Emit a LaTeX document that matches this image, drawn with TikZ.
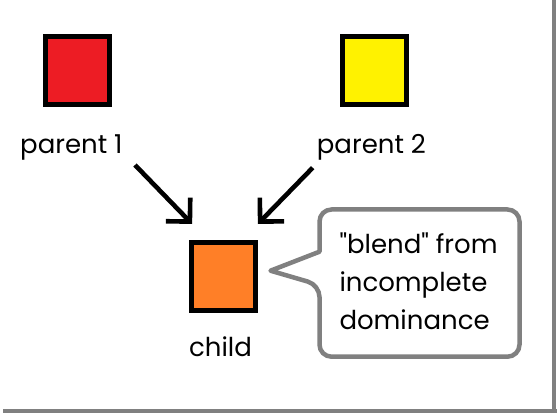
\documentclass[tikz,border=0pt]{standalone}
\usepackage{fontspec}
\setmainfont{Poppins}[Ligatures=TeXOff]
\usetikzlibrary{arrows.meta}
\definecolor{pred}{HTML}{ED1C24}
\definecolor{pyellow}{HTML}{FFF200}
\definecolor{porange}{HTML}{FF7F27}
\definecolor{pgray}{HTML}{808080}
\begin{document}
\begin{tikzpicture}[x=1pt,y=-1pt,
  sq/.style={draw=black,line width=4.7pt,minimum width=64pt,minimum height=68pt,inner sep=0pt},
  lbl/.style={font=\fontsize{26}{30}\selectfont,inner sep=0pt},
  arr/.style={line width=4.6pt,-{Straight Barb[length=17pt,angle'=90]}},
  bubble/.style={draw=pgray,line width=4.5pt,fill=white,line join=round},
  frame/.style={draw=pgray,line width=4.3pt}]
\fill[white] (0,0) rectangle (557,414);
\useasboundingbox (0,0) rectangle (557,414);
% frame
\draw[frame] (3,411.2) -- (557,411.2);
\draw[frame] (553.7,0) -- (553.7,413.3);
% squares
\node[sq,fill=pred] (red) at (77.5,70.5) {};
\node[sq,fill=pyellow] (yellow) at (374.5,70.5) {};
\node[sq,fill=porange] (child) at (223.5,276.3) {};
% labels
\node[lbl,anchor=base west] (p1) at (20,153.3) {parent 1};
\node[lbl,anchor=base west] (p2) at (316.7,153.3) {parent 2};
\node[lbl,anchor=base] (ch) at (220.5,356.7) {child};
% arrows
\coordinate (a1s) at (135,165);
\coordinate (a2s) at (312.7,167.7);
\draw[arr] (a1s) -- ([shift={(3,-16)}]child.north west);
\draw[arr] (a2s) -- ([shift={(0,-16)}]child.north east);
% callout
\draw[bubble] (319.5,285) -- (270.5,270.7) -- (319.5,251.7) [rounded corners=12pt] -- (319.5,209.5) -- (519.5,209.5) -- (519.5,356.7) -- (319.5,356.7) -- cycle;
\node[lbl,anchor=base west,align=left,font=\fontsize{26}{38}\selectfont] (note) at (339.3,329.3) {"blend" from\\incomplete\\dominance};
\end{tikzpicture}
\end{document}
